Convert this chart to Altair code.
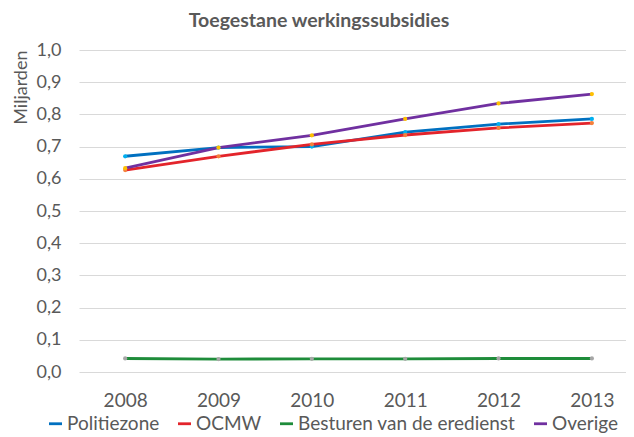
import altair as alt
import pandas as pd

years = ["2008", "2009", "2010", "2011", "2012", "2013"]
series = ["Politiezone", "OCMW", "Besturen van de eredienst", "Overige"]
politiezone = [0.670, 0.697, 0.700, 0.745, 0.770, 0.786]
ocmw = [0.627, 0.670, 0.707, 0.736, 0.758, 0.773]
besturen = [0.042, 0.040, 0.041, 0.041, 0.042, 0.042]
overige = [0.633, 0.697, 0.735, 0.786, 0.834, 0.863]

line_colors = ["#0070C0", "#E3242B", "#1E8C3A", "#7030A0"]
marker_colors = ["#00B0F0", "#F4803C", "#A6A6A6", "#FFC000"]

rows = []
for name, vals in zip(series, [politiezone, ocmw, besturen, overige]):
    for y, v in zip(years, vals):
        rows.append({"jaar": y, "reeks": name, "waarde": v})
df = pd.DataFrame(rows)

FONT = "Lato"
GRAY = "#595959"

x = alt.X("jaar:O", title=None,
          axis=alt.Axis(labelAngle=0, labelFontSize=19, labelColor=GRAY, labelFont=FONT,
                        ticks=False, domain=False, labelPadding=19, grid=False),
          scale=alt.Scale(type="point", padding=0.43, align=0.575))
y = alt.Y("waarde:Q", title="Miljarden",
          scale=alt.Scale(domain=[0, 1]),
          axis=alt.Axis(values=[i / 10 for i in range(11)],
                        labelExpr="replace(format(datum.value, '.1f'), '.', ',')",
                        labelFontSize=18, labelColor=GRAY, labelFont=FONT,
                        titleFontSize=18, titleColor=GRAY, titleFont=FONT, titleFontWeight="normal",
                        titleAnchor="end", titlePadding=6, ticks=False, domain=False,
                        gridColor="#D9D9D9", gridWidth=1, labelPadding=18))

lines = alt.Chart(df).mark_line(strokeWidth=2.8).encode(
    x=x, y=y,
    color=alt.Color("reeks:N", sort=series,
                    scale=alt.Scale(domain=series, range=line_colors),
                    legend=alt.Legend(orient="none", legendX=-33, legendY=364,
                                      title=None, direction="horizontal",
                                      symbolType="stroke", symbolStrokeWidth=2.8, symbolSize=169,
                                      labelFontSize=19, labelColor=GRAY, labelFont=FONT,
                                      labelLimit=0, labelOffset=2,
                                      columnPadding=12, padding=0)),
)

points = alt.Chart(df).mark_circle(size=18, opacity=1).encode(
    x=x, y=y,
    color=alt.Color("reeks:N", sort=series,
                    scale=alt.Scale(domain=series, range=marker_colors), legend=None),
)

chart = alt.layer(lines, points).resolve_scale(color="independent").properties(
    width=547, height=322,
    padding={"left": 4, "top": 2, "right": 0, "bottom": 0},
    title=alt.TitleParams("Toegestane werkingssubsidies", fontSize=19.5, fontWeight="bold",
                          color=GRAY, font=FONT, offset=10, frame="bounds", anchor="middle"),
).configure_view(stroke=None)

chart.save("out.html", embed_options={"renderer": "svg", "actions": False})
